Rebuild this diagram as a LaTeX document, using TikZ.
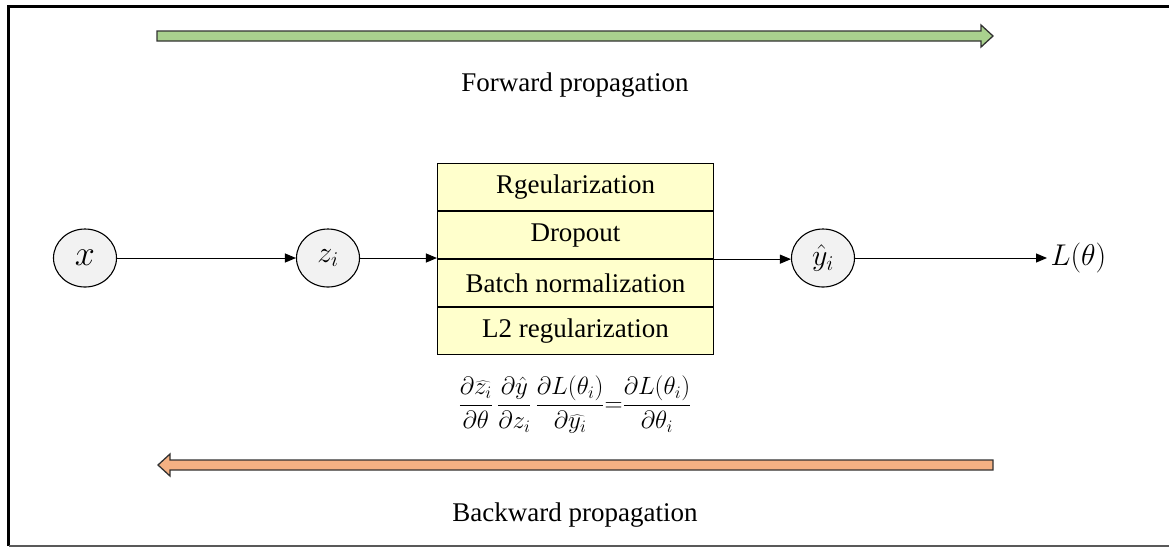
\RequirePackage{fix-cm}
\documentclass[tikz,border=0pt]{standalone}
\usepackage{fontspec}
\setmainfont{Liberation Serif}
\usetikzlibrary{arrows.meta,shapes.geometric}
\definecolor{fwdgreen}{HTML}{A9D18E}
\definecolor{bwdorange}{HTML}{F4B183}
\definecolor{boxyellow}{HTML}{FFFFCC}
\definecolor{nodegray}{HTML}{F2F2F2}
\tikzset{
  var/.style={ellipse, draw, fill=nodegray, line width=1.1pt,
    minimum width=63pt, minimum height=58pt, inner sep=0pt,
    font=\fontsize{30}{34}\selectfont},
  cellbox/.style={rectangle, draw, fill=boxyellow, line width=1.1pt,
    minimum width=276pt, minimum height=47pt, inner sep=0pt,
    font=\rmfamily\fontsize{27}{32}\selectfont},
  flow/.style={line width=1pt, -{Triangle[length=11pt,width=9pt]}},
  caption/.style={font=\rmfamily\fontsize{27}{32}\selectfont},
  blockarrow/.style={draw=black!80, line width=1.3pt, line join=miter}
}
\begin{document}
\begin{tikzpicture}[x=1pt,y=-1pt]
\useasboundingbox (0,0) rectangle (1169,547);
% frame
\draw[line width=3pt] (8.5,546) -- (8.5,6.5) -- (1169,6.5);
\draw[black!65, line width=1.5pt] (8.5,546) -- (1169,546);

% forward block arrow
\filldraw[blockarrow, fill=fwdgreen]
  (157,31) -- (981,31) -- (981,25) -- (993,36) -- (981,47) -- (981,41) -- (157,41) -- cycle;
\node[caption] (fwd) at (575,85) {Forward propagation};

% backward block arrow
\filldraw[blockarrow, fill=bwdorange]
  (993,460) -- (170,460) -- (170,454) -- (158,465) -- (170,476) -- (170,470) -- (993,470) -- cycle;
\node[caption] (bwd) at (575,515) {Backward propagation};

% variables
\node[var, font=\fontsize{36}{40}\selectfont] (x) at (85,258) {$x$};
\node[var] (z) at (328,258) {$z_i$};
\node[var] (y) at (823,258) {$\hat{y}_i$};
\node[font=\fontsize{30}{34}\selectfont, anchor=west] (L) at (1047,258) {$L(\theta)$};

% stacked regularisation box
\node[cellbox] (r1) at (575.5,187) {Rgeularization};
\node[cellbox, anchor=north] (r2) at (r1.south) {Dropout};
\node[cellbox, anchor=north] (r3) at (r2.south) {Batch normalization};
\node[cellbox, anchor=north] (r4) at (r3.south) {L2 regularization};

% connectors
\draw[flow] (x.east) -- (z.west);
\draw[flow] (z.east) -- (z.east -| r3.north west);
\draw[flow] (r3.north east) -- (r3.north east -| y.west);
\draw[flow] (y.east) -- (L.west);

% chain rule
\node[font=\fontsize{25}{30}\selectfont, inner sep=0pt] (chain) at (575,405)
  {$\displaystyle\frac{\partial\widehat{z_i}}{\partial\theta}\,\frac{\partial\hat{y}}{\partial z_i}\,\frac{\partial L(\theta_i)}{\partial\widehat{y_i}}{=}\frac{\partial L(\theta_i)}{\partial\theta_i}$};
\end{tikzpicture}
\end{document}
